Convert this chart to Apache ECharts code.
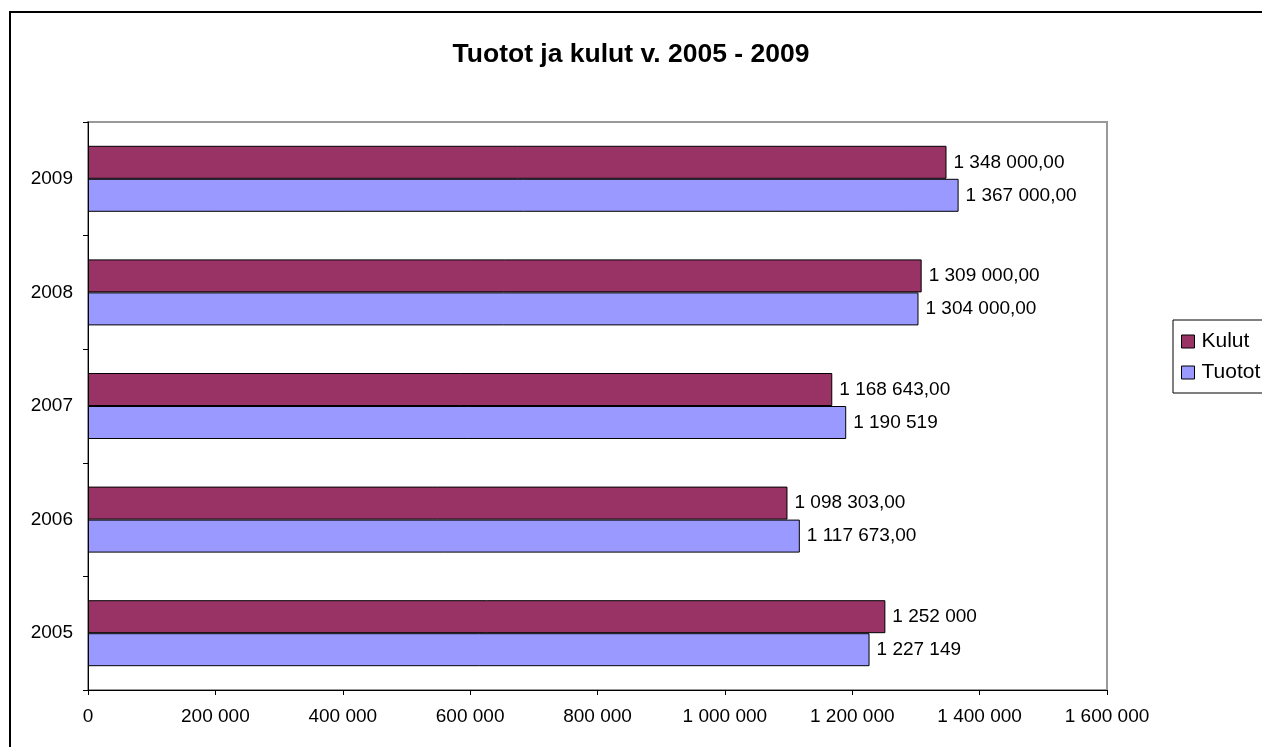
<!DOCTYPE html>
<html>
<head>
<meta charset="utf-8">
<script src="https://cdn.jsdelivr.net/npm/echarts@6/dist/echarts.min.js"></script>
<style>
  html, body { margin: 0; padding: 0; background: #fff; }
  #chart { width: 1262px; height: 747px; }
</style>
</head>
<body>
<div id="chart"></div>
<script>
var years = ['2005', '2006', '2007', '2008', '2009']
var kulut = [1252000, 1098303, 1168643, 1309000, 1348000]
var tuotot = [1227149, 1117673, 1190519, 1304000, 1367000]
// labels as printed in the picture (mixed formats)
var kulutLabels = ['1 252 000', '1 098 303,00', '1 168 643,00', '1 309 000,00', '1 348 000,00']
var tuototLabels = ['1 227 149', '1 117 673,00', '1 190 519', '1 304 000,00', '1 367 000,00']

var font = 'Liberation Sans, Arial, sans-serif'

function fmtTick(v) {
  return String(v).replace(/\B(?=(\d{3})+(?!\d))/g, ' ')
}

var chart = echarts.init(document.getElementById('chart'))
chart.setOption({
  animation: false,
  title: {
    text: 'Tuotot ja kulut v. 2005 - 2009',
    left: 'center',
    top: 36,
    textStyle: { fontFamily: font, fontSize: 26.5, fontWeight: 'bold', color: '#000' }
  },
  graphic: [{
    type: 'rect',
    shape: { x: 10, y: 12, width: 1400, height: 900 },
    style: { fill: 'none', stroke: '#000', lineWidth: 2 },
    silent: true
  }],
  legend: {
    orient: 'vertical',
    left: 1173,
    top: 320,
    padding: [11, 30, 10, 8],
    itemGap: 10,
    borderColor: '#000',
    borderWidth: 1,
    itemWidth: 13,
    itemHeight: 13,
    icon: 'rect',
    itemStyle: { borderColor: '#000', borderWidth: 1 },
    textStyle: { fontFamily: font, fontSize: 21, color: '#000', padding: [0, 0, 0, 2] },
    data: ['Kulut', 'Tuotot']
  },
  grid: {
    left: 88,
    top: 122,
    right: 155,
    bottom: 57,
    show: true,
    borderColor: '#999',
    borderWidth: 2,
    containLabel: false
  },
  xAxis: {
    type: 'value',
    min: 0,
    max: 1600000,
    interval: 200000,
    axisLine: { show: true, lineStyle: { color: '#000', width: 1 } },
    axisTick: { show: true, length: 5, lineStyle: { color: '#000' } },
    splitLine: { show: false },
    axisLabel: { formatter: fmtTick, fontFamily: font, fontSize: 19, color: '#000', margin: 17 }
  },
  yAxis: {
    type: 'category',
    data: years,
    axisLine: { show: true, lineStyle: { color: '#000', width: 1 } },
    axisTick: { show: true, length: 5, lineStyle: { color: '#000' } },
    axisLabel: { fontFamily: font, fontSize: 19, color: '#000', margin: 15 }
  },
  series: [
    {
      name: 'Kulut',
      type: 'bar',
      data: kulut,
      barWidth: 33,
      barGap: '0%',
      itemStyle: { color: '#993366', borderColor: '#000', borderWidth: 1 },
      label: {
        show: true,
        position: 'right',
        distance: 7,
        fontFamily: font,
        fontSize: 19,
        color: '#000',
        formatter: function (p) { return kulutLabels[p.dataIndex] }
      }
    },
    {
      name: 'Tuotot',
      type: 'bar',
      data: tuotot,
      barWidth: 33,
      barGap: '0%',
      itemStyle: { color: '#9999FF', borderColor: '#000', borderWidth: 1 },
      label: {
        show: true,
        position: 'right',
        distance: 7,
        fontFamily: font,
        fontSize: 19,
        color: '#000',
        formatter: function (p) { return tuototLabels[p.dataIndex] }
      }
    }
  ]
})
</script>
</body>
</html>
